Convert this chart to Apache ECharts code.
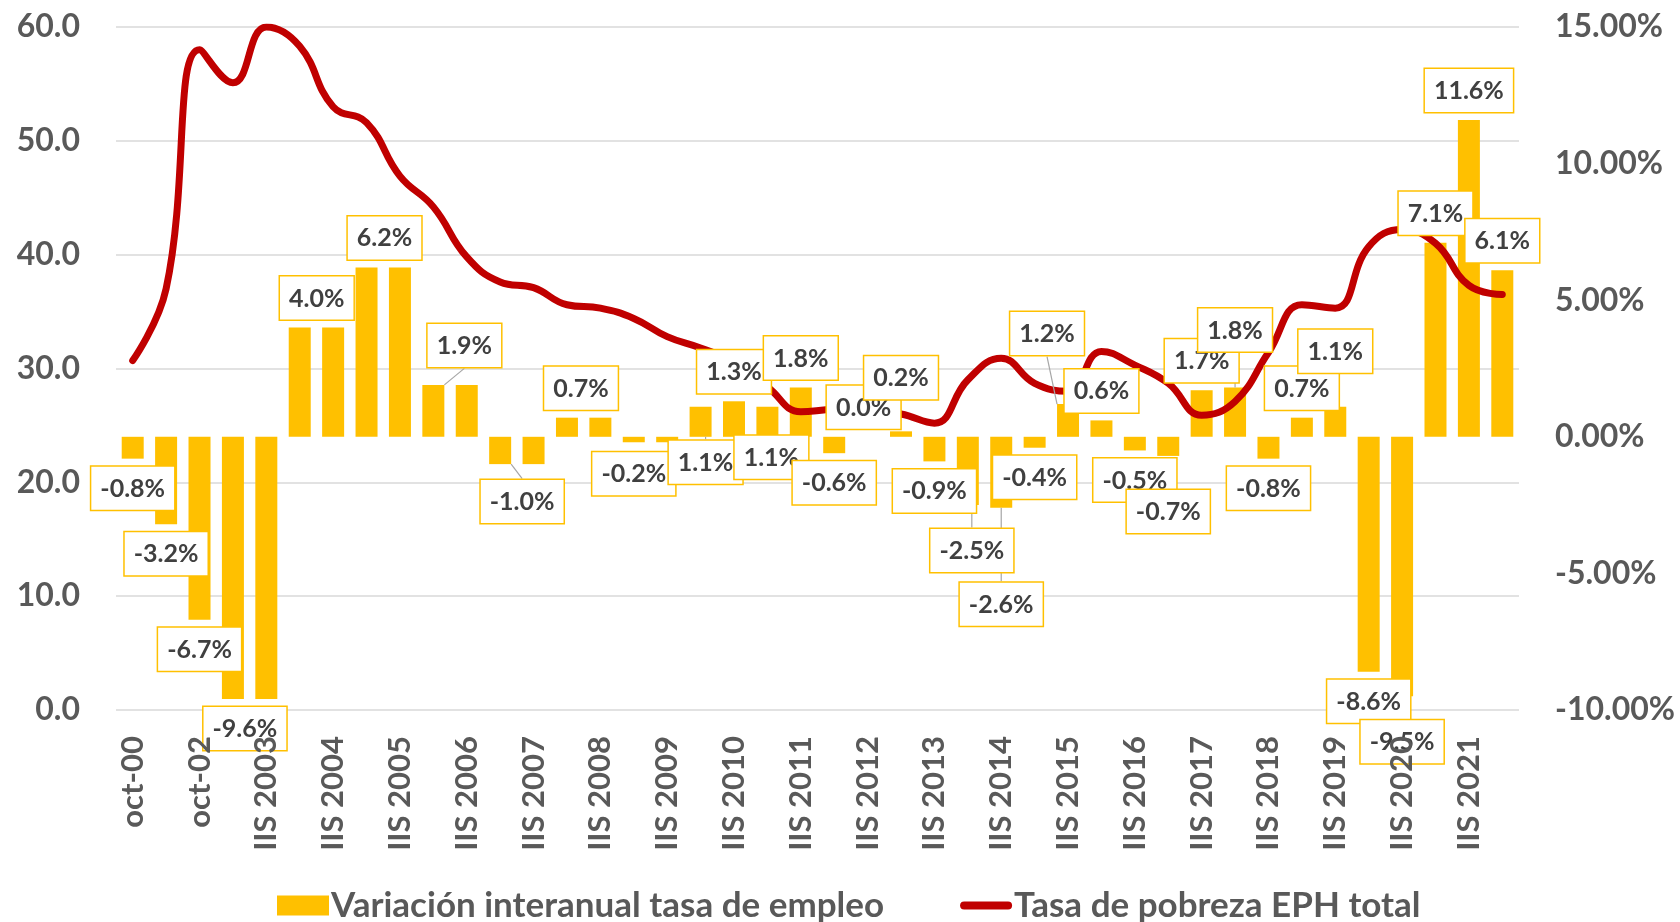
<!DOCTYPE html>
<html lang="es">
<head>
<meta charset="UTF-8">
<title>Empleo y pobreza</title>
<script src="https://cdn.jsdelivr.net/npm/echarts@6.0.0/dist/echarts.min.js"></script>
<style>
  html, body { margin: 0; padding: 0; background: #fff; }
  #chart { width: 1680px; height: 922px; }
</style>
</head>
<body>
<div id="chart"></div>
<script>
// categorías (se muestra una de cada dos)
const categorias = ['oct-00', 'oct-01', 'oct-02', 'IS 2003', 'IIS 2003'];
for (let a = 2004; a <= 2021; a++) categorias.push('IS ' + a, 'IIS ' + a);
categorias.push('IS 2022');

// variación interanual tasa de empleo (%), eje derecho
const variacionEmpleo = [-0.8, -3.2, -6.7, -9.6, -9.6, 4.0, 4.0, 6.2, 6.2, 1.9, 1.9,
  -1.0, -1.0, 0.7, 0.7, -0.2, -0.2, 1.1, 1.3, 1.1, 1.8, -0.6, 0.0,
  0.2, -0.9, -2.5, -2.6, -0.4, 1.2, 0.6, -0.5, -0.7, 1.7, 1.8, -0.8,
  0.7, 1.1, -8.6, -9.5, 7.1, 11.6, 6.1];

// tasa de pobreza EPH total, eje izquierdo
const pobreza = [30.7, 37.0, 58.0, 55.1, 60.0, 58.3, 53.0, 51.6, 46.9, 44.2, 39.8,
  37.6, 37.1, 35.6, 35.3, 34.4, 32.8, 31.8, 30.6, 28.4, 26.2, 26.4, 26.3,
  26.0, 25.2, 29.0, 30.9, 28.7, 28.0, 31.5, 30.3, 28.7, 25.9, 27.1, 31.4,
  35.6, 35.3, 40.7, 42.2, 41.0, 37.3, 36.5];

const ticksIzq = { min: 0, max: 60, interval: 10 };
const ticksDer = { min: -10, max: 15, interval: 5 };

// etiquetas: cuáles se ocultan, cuáles se desplazan y cuáles llevan guía
const sinEtiqueta = [4, 6, 8, 10, 12, 14, 16];
const conGuia = [9, 11, 17, 25, 26, 28, 33];
const desplazamiento = {
  3: [12, 0], 5: [17, 0], 7: [18, 0], 9: [31, -10], 11: [22, 8], 13: [14, 0],
  15: [0, 2], 17: [5, 85], 19: [4, 80], 22: [-4, 0], 23: [0, -24], 25: [4, 16],
  26: [0, 67], 28: [-21, -41], 31: [0, 26], 33: [0, -28], 36: [0, -26], 38: [0, 16]
};

const FONT = 'Lato';
const GRIS = '#595959';
const AMARILLO = '#FFC000';
const ROJO = '#C00000';

const chart = echarts.init(document.getElementById('chart'));

const datosEtiqueta = variacionEmpleo.map((v, i) => ({
  value: v,
  label: { show: sinEtiqueta.indexOf(i) < 0, position: v < 0 ? 'outside' : 'top' },
  labelLine: { show: conGuia.indexOf(i) >= 0 }
}));

chart.setOption({
  animation: false,
  grid: { left: 116, right: 161, top: 27, bottom: 212, outerBoundsMode: 'none' },
  legend: {
    left: 272,
    top: 883,
    itemWidth: 52,
    itemHeight: 20,
    itemGap: 76,
    textStyle: { fontFamily: FONT, fontSize: 35, fontWeight: 'bold', color: GRIS, padding: [0, 0, 0, -3] },
    data: [
      { name: 'Variación interanual tasa de empleo', icon: 'rect', itemStyle: { color: AMARILLO } },
      { name: 'Tasa de pobreza EPH total',
        icon: 'path://M4.5,0 L53.5,0 A4.5,4.5 0 0 1 53.5,9 L4.5,9 A4.5,4.5 0 0 1 4.5,0 Z',
        itemStyle: { color: ROJO } }
    ]
  },
  xAxis: {
    type: 'category',
    data: categorias,
    z: 10,
    axisLine: { show: false },
    axisTick: { show: false },
    axisLabel: {
      interval: 1, rotate: 90, margin: 26,
      fontFamily: FONT, fontSize: 31, fontWeight: 'bold', color: GRIS
    }
  },
  yAxis: [
    {
      type: 'value', min: ticksIzq.min, max: ticksIzq.max, interval: ticksIzq.interval,
      axisLine: { show: false }, axisTick: { show: false },
      splitLine: { lineStyle: { color: '#D9D9D9', width: 1.5 } },
      axisLabel: {
        margin: 36, formatter: v => v.toFixed(1),
        fontFamily: FONT, fontSize: 32, fontWeight: 'bold', color: GRIS
      }
    },
    {
      type: 'value', min: ticksDer.min, max: ticksDer.max, interval: ticksDer.interval,
      axisLine: { show: false }, axisTick: { show: false }, splitLine: { show: false },
      axisLabel: {
        margin: 36, formatter: v => v.toFixed(2) + '%',
        fontFamily: FONT, fontSize: 32, fontWeight: 'bold', color: GRIS
      }
    }
  ],
  series: [
    {
      name: 'Variación interanual tasa de empleo',
      type: 'bar',
      yAxisIndex: 1,
      barWidth: 22,
      z: 2,
      itemStyle: { color: AMARILLO },
      data: variacionEmpleo
    },
    {
      name: 'Tasa de pobreza EPH total',
      type: 'line',
      yAxisIndex: 0,
      smooth: 0.45,
      symbol: 'none',
      z: 3,
      lineStyle: { color: ROJO, width: 7, cap: 'round' },
      itemStyle: { color: ROJO },
      data: pobreza
    },
    {
      // capa transparente solo para las etiquetas, por encima de la línea
      name: 'etiquetas',
      type: 'bar',
      yAxisIndex: 1,
      barWidth: 22,
      barGap: '-100%',
      z: 4,
      silent: true,
      itemStyle: { color: 'rgba(0,0,0,0)' },
      label: {
        show: true,
        position: 'outside',
        distance: 8,
        formatter: p => p.value.toFixed(1) + '%',
        fontFamily: FONT, fontSize: 25, fontWeight: 'bold', color: '#404040',
        lineHeight: 26,
        backgroundColor: '#fff',
        borderColor: AMARILLO, borderWidth: 1.5,
        padding: [9, 9, 8, 9]
      },
      labelLine: { show: false, lineStyle: { color: '#A6A6A6', width: 1.2 } },
      labelLayout: p => {
        const d = desplazamiento[p.dataIndex];
        return d ? { dx: d[0], dy: d[1] } : {};
      },
      data: datosEtiqueta
    }
  ]
});
</script>
</body>
</html>
